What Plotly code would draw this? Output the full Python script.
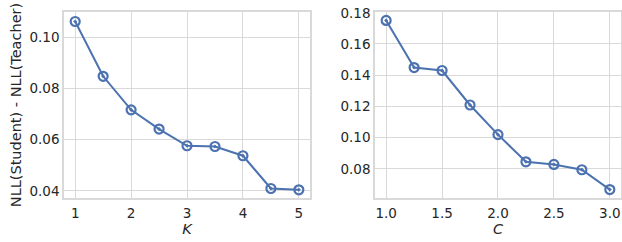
import plotly.graph_objects as go
from plotly.subplots import make_subplots

K = [1, 1.5, 2, 2.5, 3, 3.5, 4, 4.5, 5]
nll_k = [0.1061, 0.0847, 0.0716, 0.0641, 0.0576, 0.0573, 0.0537, 0.0409, 0.0404]
C = [1.0, 1.25, 1.5, 1.75, 2.0, 2.25, 2.5, 2.75, 3.0]
nll_c = [0.1751, 0.1449, 0.1430, 0.1209, 0.1019, 0.0845, 0.0828, 0.0794, 0.0667]

blue = "#4c72b0"
grid = "#d9d9d9"
txt = "#262626"
font = "DejaVu Sans"

fig = make_subplots(rows=1, cols=2)
for xs, ys, c in [(K, nll_k, 1), (C, nll_c, 2)]:
    fig.add_trace(go.Scatter(x=xs, y=ys, mode="lines+markers",
                             line=dict(color=blue, width=2),
                             marker=dict(symbol="circle-open-dot", size=9, color=blue,
                                         line=dict(width=2.2, color=blue)),
                             showlegend=False), row=1, col=c)

axis_common = dict(showgrid=True, gridcolor=grid, gridwidth=1.2,
                   showline=True, linecolor=grid, linewidth=1.5, mirror=True,
                   zeroline=False, ticks="", automargin=False,
                   tickfont=dict(family=font, size=13.5, color=txt))

fig.update_xaxes(**axis_common)
fig.update_yaxes(**axis_common)

fig.update_xaxes(domain=[0, 0.4417], range=[0.8, 5.2], tickvals=[1, 2, 3, 4, 5],
                 ticklabelstandoff=2,
                 title=dict(text="<i>K</i>", font=dict(family=font, size=14.5, color=txt), standoff=4),
                 row=1, col=1)
fig.update_yaxes(range=[0.0372, 0.1098], tickvals=[0.04, 0.06, 0.08, 0.10], tickformat=".2f",
                 title=dict(text="NLL(Student) - NLL(Teacher)", font=dict(family=font, size=14.5, color=txt), standoff=4),
                 row=1, col=1)
fig.update_xaxes(domain=[0.5583, 1.0], range=[0.9, 3.1], tickvals=[1.0, 1.5, 2.0, 2.5, 3.0], tickformat=".1f",
                 ticklabelstandoff=2,
                 title=dict(text="<i>C</i>", font=dict(family=font, size=14.5, color=txt), standoff=4),
                 row=1, col=2)
fig.update_yaxes(range=[0.0613, 0.1805], tickvals=[0.08, 0.10, 0.12, 0.14, 0.16, 0.18], tickformat=".2f",
                 row=1, col=2)

fig.update_layout(width=622, height=242, margin=dict(l=64, r=1, t=12, b=44, autoexpand=False),
                  plot_bgcolor="white", paper_bgcolor="white",
                  font=dict(family=font, color=txt))
fig.write_html("out.html", config={"displayModeBar": False},
               post_script="document.body.style.margin='0';document.body.style.overflow='hidden';")
